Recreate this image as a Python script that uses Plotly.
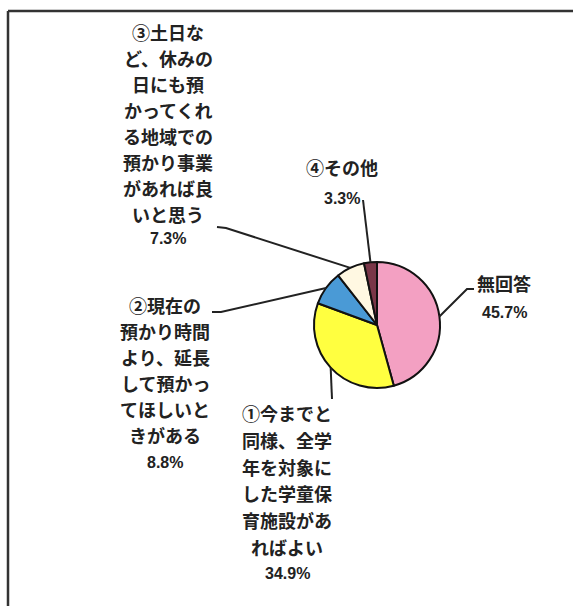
import math
import plotly.graph_objects as go

W, H = 573, 606

# data (clockwise from 12 o'clock)
labels = ["無回答",
          "①今までと同様、全学年を対象にした学童保育施設があればよい",
          "②現在の預かり時間より、延長して預かってほしいときがある",
          "③土日など、休みの日にも預かってくれる地域での預かり事業があれば良いと思う",
          "④その他"]
values = [45.7, 34.9, 8.8, 7.3, 3.3]
label_lines = [
    ["無回答"],
    ["①今までと", "同様、全学", "年を対象に", "した学童保", "育施設があ", "ればよい"],
    ["②現在の", "預かり時間", "より、延長", "して預かっ", "てほしいと", "きがある"],
    ["③土日な", "ど、休みの", "日にも預", "かってくれ", "る地域での", "預かり事業", "があれば良", "いと思う"],
    ["④その他"],
]
colors = ["#F3A0C2", "#FFFF40", "#4A9AD6", "#FFF8E2", "#7A3648"]

# layout in pixels
cx, cy, r = 377, 325, 63
# label block: (center x, first line y, line step, percent y)
label_pos = [(504, 283, 26, 312), (287, 413, 26.8, 573), (165, 305, 26, 462),
             (168, 32, 26, 238), (342, 167, 26, 198)]
# extra leader points (from text side), anchor on the pie edge is computed
leader_pts = [
    [(474, 289), (467, 289)],
    [(332, 399)],
    [(212, 312), (221, 312)],
    [(217, 227), (226, 228)],
    [(363, 200)],
]

fig = go.Figure()
fig.add_trace(go.Pie(
    labels=labels, values=values, sort=False, direction="clockwise", rotation=0,
    marker=dict(colors=colors, line=dict(color="#111", width=2)),
    textinfo="none", hoverinfo="label+percent", showlegend=False,
    domain=dict(x=[(cx - r) / W, (cx + r) / W], y=[(H - cy - r) / H, (H - cy + r) / H]),
))

# invisible pixel axes for shapes / annotations
fig.add_trace(go.Scatter(x=[0, W], y=[0, H], mode="markers", marker=dict(opacity=0),
                         hoverinfo="skip", showlegend=False))

txt_font = dict(family="Noto Sans CJK JP", size=18, color="#222")
pct_font = dict(family="Liberation Sans, Arial", size=16, color="#222")

annotations = []
shapes = []
cum = 0
for i, v in enumerate(values):
    mid = (cum + v / 2) / sum(values) * 2 * math.pi
    cum += v
    ax_ = cx + r * math.sin(mid)
    ay_ = cy - r * math.cos(mid)
    pts = leader_pts[i] + [(ax_, ay_)]
    path = "M " + " L ".join(f"{x},{y}" for x, y in pts)
    shapes.append(dict(type="path", path=path, xref="x", yref="y",
                       line=dict(color="#222", width=2)))
    lx, ly, step, py = label_pos[i]
    for j, line in enumerate(label_lines[i]):
        annotations.append(dict(text=f"<b>{line}</b>", x=lx, y=ly + j * step, xref="x", yref="y",
                                showarrow=False, xanchor="center", yanchor="middle", font=txt_font))
    annotations.append(dict(text=f"<b>{v}%</b>", x=lx, y=py, xref="x", yref="y",
                            showarrow=False, xanchor="center", yanchor="middle", font=pct_font))

# frame (top and left edges)
shapes.append(dict(type="line", xref="x", yref="y", x0=8, y0=11, x1=W + 5, y1=11,
                   line=dict(color="#333", width=2.5)))
shapes.append(dict(type="line", xref="x", yref="y", x0=8, y0=11, x1=8, y1=H + 5,
                   line=dict(color="#333", width=2.5)))

fig.update_layout(
    width=W, height=H, margin=dict(l=0, r=0, t=0, b=0),
    paper_bgcolor="white", plot_bgcolor="rgba(0,0,0,0)",
    xaxis=dict(range=[0, W], visible=False, fixedrange=True),
    yaxis=dict(range=[H, 0], visible=False, fixedrange=True),
    annotations=annotations, shapes=shapes,
)

fig.write_html("out.html", config={"displayModeBar": False},
               post_script="document.body.style.margin='0';")
